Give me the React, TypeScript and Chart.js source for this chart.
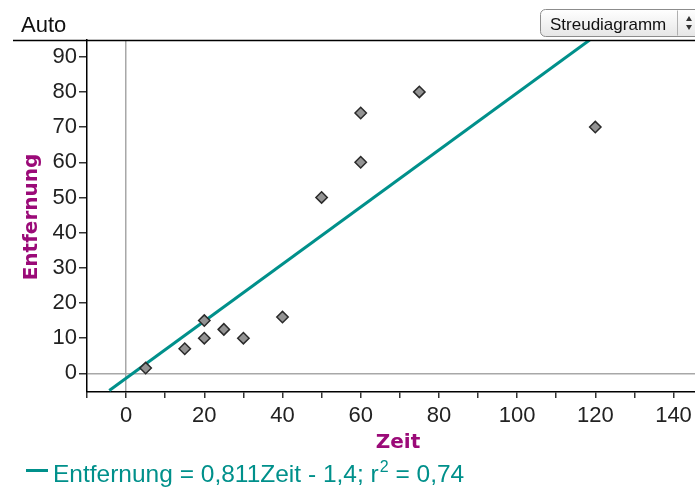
import React, { useEffect, useRef } from 'react';
import { Chart, registerables } from 'chart.js';

Chart.register(...registerables);

const zeitValues = [5, 15, 20, 20, 25, 30, 40, 50, 60, 60, 75, 120];
const entfernungValues = [1.5, 7, 15, 10, 12.5, 10, 16, 50, 60, 74, 80, 70];
const regressionSlope = 0.811;
const regressionIntercept = -1.4;
const regressionXStart = -4.3;
const xAxisRange = [-10, 145.5];
const yAxisRange = [-5.3, 94.75];
const xTickValues = [-10, 0, 10, 20, 30, 40, 50, 60, 70, 80, 90, 100, 110, 120, 130, 140];
const xTickLabels = ['', '0', '', '20', '', '40', '', '60', '', '80', '', '100', '', '120', '', '140'];
const yTickValues = [0, 10, 20, 30, 40, 50, 60, 70, 80, 90];
const yTickLabels = ['0', '10', '20', '30', '40', '50', '60', '70', '80', '90'];
const headerLabel = 'Auto';
const plotTypeLabel = 'Streudiagramm';
const xTitle = 'Zeit';
const yTitle = 'Entfernung';
const legendMain = 'Entfernung = 0,811Zeit - 1,4; r';
const legendSup = '2';
const legendTail = ' = 0,74';

const TEAL = '#00908b';
const PURPLE = '#9b0a78';
const SANS = '"Liberation Sans", Arial, sans-serif';

const overlayPlugin = {
  id: 'overlay',
  afterDraw(chart: any) {
    const ctx = chart.ctx as CanvasRenderingContext2D;
    ctx.save();
    // header line
    ctx.strokeStyle = '#000';
    ctx.lineWidth = 1.5;
    ctx.beginPath();
    ctx.moveTo(13, 40.5);
    ctx.lineTo(695, 40.5);
    ctx.stroke();
    // Auto
    ctx.fillStyle = '#111';
    ctx.font = `22px ${SANS}`;
    ctx.textAlign = 'left';
    ctx.textBaseline = 'alphabetic';
    ctx.fillText(headerLabel, 21, 32);
    // dropdown
    const bx = 540.5, by = 9.5, bw = 175, bh = 27;
    const grad = ctx.createLinearGradient(0, by, 0, by + bh);
    grad.addColorStop(0, '#ffffff');
    grad.addColorStop(1, '#e6e6e6');
    ctx.fillStyle = grad;
    ctx.beginPath();
    (ctx as any).roundRect(bx, by, bw, bh, 5);
    ctx.fill();
    ctx.strokeStyle = '#8c8c8c';
    ctx.lineWidth = 1;
    ctx.stroke();
    ctx.beginPath();
    ctx.moveTo(677.5, by + 1);
    ctx.lineTo(677.5, by + bh - 1);
    ctx.strokeStyle = '#b0b0b0';
    ctx.stroke();
    ctx.fillStyle = '#111';
    ctx.font = `17px ${SANS}`;
    ctx.fillText(plotTypeLabel, 550, 30);
    ctx.fillStyle = '#333';
    ctx.beginPath();
    ctx.moveTo(686, 21); ctx.lineTo(692, 21); ctx.lineTo(689, 16); ctx.closePath(); ctx.fill();
    ctx.beginPath();
    ctx.moveTo(686, 25); ctx.lineTo(692, 25); ctx.lineTo(689, 30); ctx.closePath(); ctx.fill();
    // axis titles
    ctx.fillStyle = PURPLE;
    ctx.font = `bold 20px "DejaVu Sans", sans-serif`;
    ctx.textAlign = 'center';
    ctx.textBaseline = 'middle';
    ctx.fillText(xTitle, 398, 443);
    ctx.save();
    ctx.translate(32, 217);
    ctx.rotate(-Math.PI / 2);
    ctx.fillText(yTitle, 0, 0);
    ctx.restore();
    // legend
    ctx.strokeStyle = TEAL;
    ctx.lineWidth = 3;
    ctx.beginPath();
    ctx.moveTo(26, 470.5);
    ctx.lineTo(48, 470.5);
    ctx.stroke();
    ctx.fillStyle = TEAL;
    ctx.textAlign = 'left';
    ctx.textBaseline = 'alphabetic';
    ctx.font = `24.5px ${SANS}`;
    let x = 53;
    ctx.fillText(legendMain, x, 482);
    x += ctx.measureText(legendMain).width + 1;
    ctx.font = `16px ${SANS}`;
    ctx.fillText(legendSup, x, 472);
    x += ctx.measureText(legendSup).width;
    ctx.font = `24.5px ${SANS}`;
    ctx.fillText(legendTail, x, 482);
    ctx.restore();
  },
};

export default function App() {
  const canvasRef = useRef<HTMLCanvasElement | null>(null);

  useEffect(() => {
    if (!canvasRef.current) return;
    const points = zeitValues.map((x, i) => ({ x, y: entfernungValues[i] }));
    const xEnd = (yAxisRange[1] - regressionIntercept) / regressionSlope;
    const linePts = [regressionXStart, xEnd].map((x) => ({ x, y: regressionSlope * x + regressionIntercept }));

    const zeroGrid = (c: any) => (c.tick && c.tick.value === 0 ? '#a8a8a8' : 'rgba(0,0,0,0)');

    const chart = new Chart(canvasRef.current, {
      type: 'scatter',
      data: {
        datasets: [
          {
            data: points,
            pointStyle: 'rectRot',
            pointRadius: 5.7,
            pointBackgroundColor: '#939393',
            pointBorderColor: '#2a2a2a',
            pointBorderWidth: 1.5,
            showLine: false,
          },
          {
            data: linePts,
            showLine: true,
            borderColor: TEAL,
            borderWidth: 3,
            pointRadius: 0,
            fill: false,
          },
        ],
      },
      options: {
        animation: false,
        responsive: false,
        maintainAspectRatio: false,
        layout: { autoPadding: false, padding: { top: 40, left: 0, right: 0, bottom: 0 } },
        plugins: { legend: { display: false }, tooltip: { enabled: false } },
        scales: {
          x: {
            type: 'linear',
            min: xAxisRange[0],
            max: xAxisRange[1],
            afterBuildTicks: (s: any) => { s.ticks = xTickValues.map((v) => ({ value: v })); },
            afterFit: (s: any) => { s.height = 97; s.paddingRight = 0; s.paddingLeft = 0; },
            border: { display: true, color: '#000', width: 1.5 },
            grid: { color: zeroGrid, lineWidth: 1.5, tickColor: '#333', tickLength: 6, drawTicks: true },
            ticks: {
              autoSkip: false,
              maxRotation: 0,
              padding: 5,
              color: '#222',
              font: { family: SANS, size: 22 },
              callback: (_v: any, i: number) => xTickLabels[i] ?? '',
            },
          },
          y: {
            type: 'linear',
            min: yAxisRange[0],
            max: yAxisRange[1],
            afterBuildTicks: (s: any) => { s.ticks = yTickValues.map((v) => ({ value: v })); },
            afterFit: (s: any) => { s.width = 87; s.paddingTop = 0; s.paddingBottom = 0; },
            border: { display: true, color: '#000', width: 1.5 },
            grid: { color: zeroGrid, lineWidth: 1.5, tickColor: '#333', tickLength: 8, drawTicks: true },
            ticks: {
              autoSkip: false,
              padding: 2,
              color: '#222',
              font: { family: SANS, size: 22 },
              callback: (_v: any, i: number) => yTickLabels[i] ?? '',
            },
          },
        },
      },
      plugins: [overlayPlugin],
    } as any);
    return () => chart.destroy();
  }, []);

  return (
    <div style={{ position: 'absolute', left: 0, top: 0, width: 695, height: 489, background: '#fff' }}>
      <canvas ref={canvasRef} width={695} height={489} style={{ width: 695, height: 489 }} />
    </div>
  );
}
